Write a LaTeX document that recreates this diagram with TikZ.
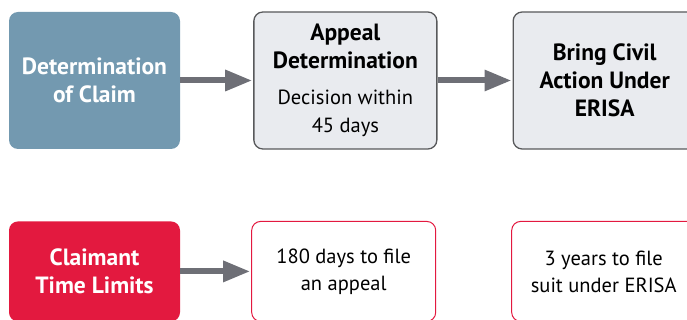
\documentclass[tikz,border=0pt]{standalone}
\usepackage{fontspec}
\setmainfont{PT Sans}
\usetikzlibrary{arrows.meta, positioning}

\definecolor{claimblue}{HTML}{7399B0}
\definecolor{boxgrey}{HTML}{E9EBEF}
\definecolor{edgegrey}{HTML}{58595B}
\definecolor{arrowgrey}{HTML}{6E6F76}
\definecolor{limitred}{HTML}{E3193F}

\newcommand{\headfont}{\bfseries\fontsize{23.5}{28}\selectfont}
\newcommand{\bodyfont}{\mdseries\fontsize{20.5}{27}\selectfont}

\begin{document}
\begin{tikzpicture}[
            x = 1pt, y = -1pt, % pixel like units
            > = {Triangle[length=27pt, width=20pt]}, % arrow head style
            shorten > = 1pt, % don't touch arrow head to node
            every node/.style = {align=center, inner sep=0pt}
        ]

        \tikzstyle{stage}=[
            rectangle,
            rounded corners = 9pt,
            minimum width = 171pt,
            minimum height = 137pt
        ]
        \tikzstyle{headbox}=[stage, fill = claimblue, text = white, font = \headfont]
        \tikzstyle{greybox}=[stage, fill = boxgrey, draw = edgegrey, line width = 1.3pt, minimum width = 183pt, font = \headfont]
        \tikzstyle{limitbox}=[stage, minimum height = 100pt]
        \tikzstyle{redbox}=[limitbox, fill = limitred, text = white, font = \headfont]
        \tikzstyle{outlinebox}=[limitbox, draw = limitred, line width = 1pt, minimum width = 184pt, font = \bodyfont]
        \tikzstyle{flow}=[arrowgrey, line width = 6pt]

        \useasboundingbox (0,0) rectangle (687,320);
        \clip (0,0) rectangle (687,320);

        \node[headbox] (DC) at (94.5,80.5) {Determination\\of Claim};
        \node[greybox, right=73pt of DC] (AD) {Appeal\\Determination\\[8pt]\bodyfont Decision within\\\bodyfont 45 days};
        \node[greybox, right=75pt of AD] (CA) {Bring Civil\\Action Under\\ERISA};

        \node[redbox, below=72pt of DC] (TL) {Claimant\\Time Limits};
        \node[outlinebox, right=71pt of TL] (AP) {180 days to file\\an appeal};
        \node[outlinebox, right=75pt of AP] (SU) {3 years to file\\suit under ERISA};

        \path[flow, ->] (DC) edge (AD);
        \path[flow, ->] (AD) edge (CA);
        \path[flow, ->] (TL) edge (AP);

    \end{tikzpicture}
\end{document}
